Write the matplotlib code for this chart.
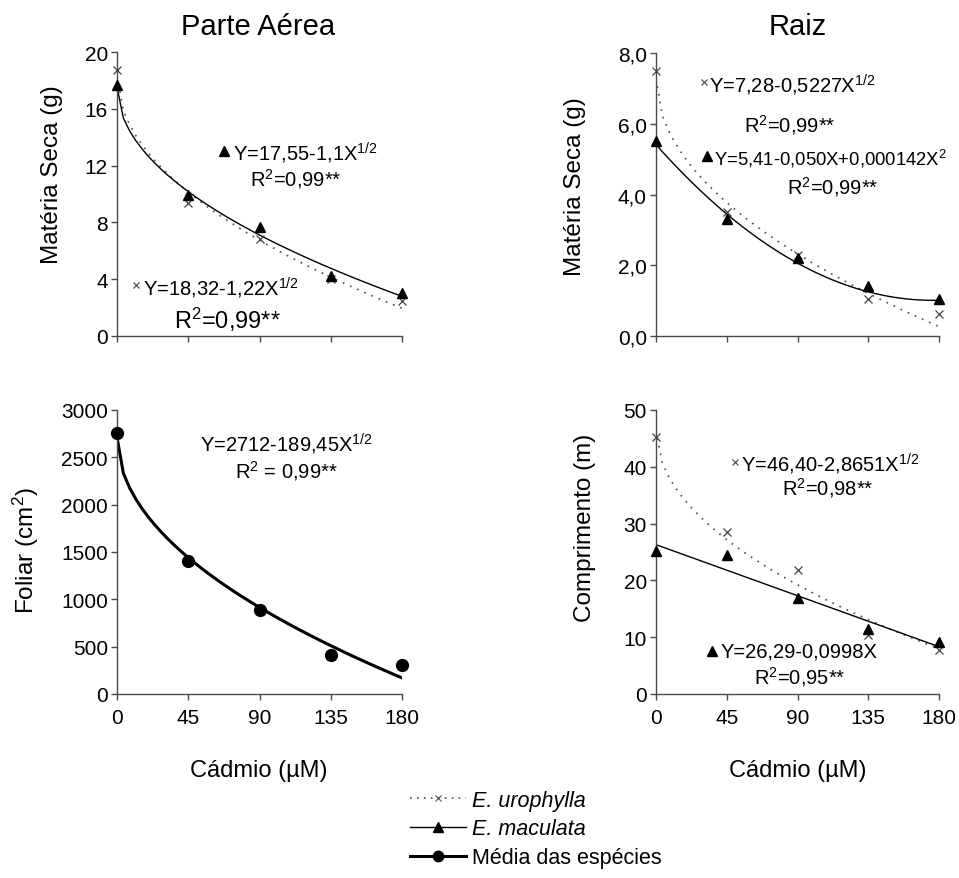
import numpy as np
import matplotlib
matplotlib.use("Agg")
import matplotlib.pyplot as plt
from matplotlib.lines import Line2D

plt.rcParams['font.family'] = ['Liberation Sans', 'DejaVu Sans']
plt.rcParams['mathtext.fontset'] = 'custom'
plt.rcParams['mathtext.rm'] = 'Liberation Sans'
plt.rcParams['mathtext.it'] = 'Liberation Sans:italic'
plt.rcParams['mathtext.bf'] = 'Liberation Sans:bold'
plt.rcParams['mathtext.default'] = 'regular'

# ---------------- data ----------------
cadmio = [0, 45, 90, 135, 180]

# Parte aerea - materia seca (g)
pa_urophylla = [18.7, 9.4, 6.8, 4.0, 2.5]
pa_maculata = [17.7, 9.9, 7.7, 4.2, 3.0]
pa_uro_coef = [18.32, 1.22]          # Y = a - b*X^0.5
pa_mac_coef = [17.55, 1.1]           # Y = a - b*X^0.5

# Raiz - materia seca (g)
rz_urophylla = [7.5, 3.5, 2.3, 1.05, 0.62]
rz_maculata = [5.5, 3.3, 2.2, 1.4, 1.04]
rz_uro_coef = [7.28, 0.5227]         # Y = a - b*X^0.5
rz_mac_coef = [5.41, -0.050, 0.000142]  # Y = a + b*X + c*X^2

# Foliar (cm2) - media das especies
foliar_media = [2753, 1400, 883, 415, 302]
foliar_coef = [2712, 189.45]         # Y = a - b*X^0.5

# Raiz - comprimento (m)
cp_urophylla = [45.3, 28.6, 21.9, 10.3, 7.7]
cp_maculata = [25.2, 24.4, 16.9, 11.5, 9.2]
cp_uro_coef = [46.40, 2.8651]        # Y = a - b*X^0.5
cp_mac_coef = [26.29, 0.0998]        # Y = a - b*X

x_ticks = [0, 45, 90, 135, 180]
xs = np.linspace(0, 180, 46)

# ---------------- style ----------------
W, H = 959, 879
fig = plt.figure(figsize=(W / 100, H / 100), dpi=100)

SPINE = '#4a4a4a'
DOT = dict(color='#555555', lw=1.25, ls=(0, (1, 3.5)))
SOLID = dict(color='black', lw=1.0, ls='-')
XMK = dict(marker='x', ms=6, mew=0.9, color='#444444', ls='none', clip_on=False, zorder=5)
TRI = dict(marker='^', ms=7.5, color='black', ls='none', clip_on=False, zorder=5)
CIR = dict(marker='o', ms=8.5, color='black', ls='none', clip_on=False, zorder=5)
TICKFS = 15
ANNFS = 14.5


def make_ax(px_left, px_top, px_w, px_h):
    ax = fig.add_axes([px_left / W, 1 - (px_top + px_h) / H, px_w / W, px_h / H])
    for s in ['top', 'right']:
        ax.spines[s].set_visible(False)
    for s in ['left', 'bottom']:
        ax.spines[s].set_color(SPINE)
        ax.spines[s].set_linewidth(1.0)
    ax.tick_params(direction='out', length=4, width=1.0, color=SPINE,
                   labelsize=TICKFS, pad=2.5)
    ax.tick_params(axis='x', pad=6)
    ax.set_xlim(0, 180)
    ax.set_xticks(x_ticks)
    ax.set_facecolor('none')
    return ax


# ---------- top-left: Parte Aerea, materia seca ----------
ax1 = make_ax(117, 53, 285, 284)
ax1.set_ylim(0, 20)
ax1.set_yticks([0, 4, 8, 12, 16, 20])
ax1.tick_params(axis='x', labelbottom=False)
ax1.plot(xs, pa_uro_coef[0] - pa_uro_coef[1] * np.sqrt(xs), **DOT)
ax1.plot(xs, pa_mac_coef[0] - pa_mac_coef[1] * np.sqrt(xs), **SOLID)
ax1.plot(cadmio, pa_urophylla, **XMK)
ax1.plot(cadmio, pa_maculata, **TRI)
ax1.plot([67.6], [13.0], marker='^', ms=7.5, color='black', ls='none')
ax1.text(73, 12.9, r'Y=17,55-1,1X$^{1/2}$', fontsize=ANNFS, va='center', ha='left')
ax1.text(113, 11.1, r'R$^2$=0,99**', fontsize=ANNFS, va='center', ha='center')
ax1.plot([12], [3.6], marker='x', ms=5, mew=0.8, color='#444444', ls='none')
ax1.text(16.5, 3.4, r'Y=18,32-1,22X$^{1/2}$', fontsize=ANNFS, va='center', ha='left')
ax1.text(70, 1.2, r'R$^2$=0,99**', fontsize=17, va='center', ha='center')

# ---------- top-right: Raiz, materia seca ----------
ax2 = make_ax(656, 54, 283, 283)
ax2.set_ylim(0, 8)
ax2.set_yticks([0, 2, 4, 6, 8])
ax2.set_yticklabels(['0,0', '2,0', '4,0', '6,0', '8,0'])
ax2.tick_params(axis='x', labelbottom=False)
ax2.plot(xs, rz_uro_coef[0] - rz_uro_coef[1] * np.sqrt(xs), **DOT)
ax2.plot(xs, rz_mac_coef[0] + rz_mac_coef[1] * xs + rz_mac_coef[2] * xs ** 2, **SOLID)
ax2.plot(cadmio, rz_urophylla, **XMK)
ax2.plot(cadmio, rz_maculata, **TRI)
ax2.plot([30.5], [7.18], marker='x', ms=4.5, mew=0.8, color='#444444', ls='none')
ax2.text(34.0, 7.12, r'Y=7,28-0,5227X$^{1/2}$', fontsize=ANNFS, va='center', ha='left')
ax2.text(85, 6.0, r'R$^2$=0,99**', fontsize=ANNFS, va='center', ha='center')
ax2.plot([32.4], [5.09], marker='^', ms=7.5, color='black', ls='none')
ax2.text(37.0, 5.03, r'Y=5,41-0,050X+0,000142X$^2$', fontsize=13.3, va='center', ha='left')
ax2.text(112.6, 4.25, r'R$^2$=0,99**', fontsize=ANNFS, va='center', ha='center')

# ---------- bottom-left: Foliar ----------
ax3 = make_ax(117, 411, 285, 284)
ax3.set_ylim(0, 3000)
ax3.set_yticks([0, 500, 1000, 1500, 2000, 2500, 3000])
ax3.plot(xs, foliar_coef[0] - foliar_coef[1] * np.sqrt(xs), color='black', lw=2.2)
ax3.plot(cadmio, foliar_media, **CIR)
ax3.text(107, 2650, r'Y=2712-189,45X$^{1/2}$', fontsize=ANNFS, va='center', ha='center')
ax3.text(107, 2370, r'R$^2$ = 0,99**', fontsize=ANNFS, va='center', ha='center')

# ---------- bottom-right: Comprimento ----------
ax4 = make_ax(656, 411, 283, 284)
ax4.set_ylim(0, 50)
ax4.set_yticks([0, 10, 20, 30, 40, 50])
ax4.plot(xs, cp_uro_coef[0] - cp_uro_coef[1] * np.sqrt(xs), **DOT)
ax4.plot(xs, cp_mac_coef[0] - cp_mac_coef[1] * xs, **SOLID)
ax4.plot(cadmio, cp_urophylla, **XMK)
ax4.plot(cadmio, cp_maculata, **TRI)
ax4.plot([50.2], [40.8], marker='x', ms=4.5, mew=0.8, color='#444444', ls='none')
ax4.text(54.0, 40.6, r'Y=46,40-2,8651X$^{1/2}$', fontsize=ANNFS, va='center', ha='left')
ax4.text(109.4, 36.4, r'R$^2$=0,98**', fontsize=ANNFS, va='center', ha='center')
ax4.plot([35.6], [7.6], marker='^', ms=7.5, color='black', ls='none')
ax4.text(41, 7.6, r'Y=26,29-0,0998X', fontsize=ANNFS, va='center', ha='left')
ax4.text(91.6, 3.1, r'R$^2$=0,95**', fontsize=ANNFS, va='center', ha='center')

# ---------- figure texts ----------
fig.text(258 / W, 1 - 27 / H, 'Parte Aérea', fontsize=21, ha='center', va='center')
fig.text(798 / W, 1 - 27 / H, 'Raiz', fontsize=21, ha='center', va='center')

fig.text(52 / W, 1 - 175 / H, 'Matéria Seca (g)', fontsize=17.5, rotation=90, ha='center', va='center')
fig.text(575 / W, 1 - 187 / H, 'Matéria Seca (g)', fontsize=17.5, rotation=90, ha='center', va='center')
fig.text(26 / W, 1 - 551 / H, r'Foliar (cm$^2$)', fontsize=17.5, rotation=90, ha='center', va='center')
fig.text(585 / W, 1 - 528 / H, 'Comprimento (m)', fontsize=17.5, rotation=90, ha='center', va='center')

fig.text(259 / W, 1 - 771 / H, 'Cádmio (µM)', fontsize=17, ha='center', va='center')
fig.text(798 / W, 1 - 771 / H, 'Cádmio (µM)', fontsize=17, ha='center', va='center')

# ---------- legend ----------
handles = [
    Line2D([], [], color='#555555', lw=1.25, ls=(0, (1, 3)), marker='x', ms=5, mew=0.8),
    Line2D([], [], color='black', lw=1.0, ls='-', marker='^', ms=6.5),
    Line2D([], [], color='black', lw=2.2, ls='-', marker='o', ms=7.5),
]
labels = ['E. urophylla', 'E. maculata', 'Média das espécies']
leg = fig.legend(handles, labels, loc='center left', bbox_to_anchor=(410 / W, 1 - 830 / H),
                 frameon=False, fontsize=15.5, handlelength=2.6, handletextpad=0.3,
                 labelspacing=0.36, borderpad=0, borderaxespad=0, markerfirst=True,
                 numpoints=1)
leg.get_texts()[0].set_style('italic')
leg.get_texts()[1].set_style('italic')

fig.savefig('out.png', dpi=100)
